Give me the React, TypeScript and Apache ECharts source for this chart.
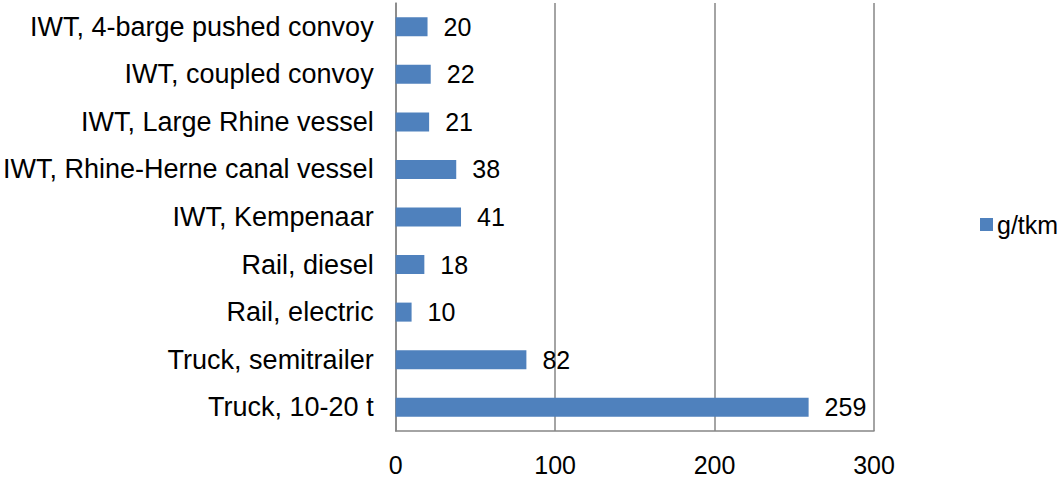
import React, { useEffect, useRef } from "react";
import * as echarts from "echarts";

const categories = [
  "Truck, 10-20 t",
  "Truck, semitrailer",
  "Rail, electric",
  "Rail, diesel",
  "IWT, Kempenaar",
  "IWT, Rhine-Herne canal vessel",
  "IWT, Large Rhine vessel",
  "IWT, coupled convoy",
  "IWT, 4-barge pushed convoy",
];
const values = [259, 82, 10, 18, 41, 38, 21, 22, 20];
const seriesName = "g/tkm";

export default function App() {
  const ref = useRef<HTMLDivElement>(null);
  useEffect(() => {
    if (!ref.current) return;
    const chart = echarts.init(ref.current, null, { renderer: "svg" });
    const font = "'Liberation Sans', Arial, sans-serif";
    chart.setOption({
      animation: false,
      textStyle: { fontFamily: font },
      grid: { left: 393, right: 183, top: 3, bottom: 44, containLabel: false },
      legend: {
        show: true,
        data: [seriesName],
        left: 975,
        top: 207,
        icon: "rect",
        itemWidth: 13,
        itemHeight: 13,
        itemGap: 5,
        textStyle: { fontSize: 25, color: "#000", fontFamily: font, padding: [0, 0, 0, -1] },
      },
      xAxis: {
        type: "value",
        min: 0,
        max: 300,
        interval: 100,
        axisLine: { show: true, lineStyle: { color: "#868686", width: 1.5 } },
        axisTick: { show: false },
        axisLabel: { fontSize: 25, color: "#000", margin: 21, fontFamily: font },
        splitLine: { show: true, lineStyle: { color: "#868686", width: 1.5 } },
      },
      yAxis: {
        type: "category",
        data: categories,
        axisLine: { show: true, lineStyle: { color: "#868686", width: 1.5 } },
        axisTick: { show: false },
        axisLabel: { fontSize: 27, color: "#000", margin: 22, fontFamily: font },
      },
      series: [
        {
          name: seriesName,
          type: "bar",
          data: values,
          barWidth: "40%",
          itemStyle: { color: "#4F81BD" },
          label: {
            show: true,
            position: "right",
            distance: 16,
            fontSize: 25,
            color: "#000",
            fontFamily: font,
          },
        },
      ],
    });
    return () => chart.dispose();
  }, []);
  return <div ref={ref} style={{ width: 1057, height: 477, position: "absolute", left: 0, top: 0 }} />;
}
